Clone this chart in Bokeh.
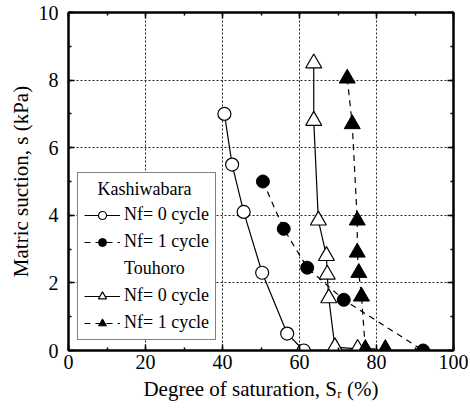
from bokeh.plotting import figure
from bokeh.models import (LinearAxis, SingleIntervalTicker, Range1d, Legend, LegendItem)
from bokeh.embed import file_html
from bokeh.resources import INLINE

# Data
kashi0_sr = [40.5, 42.5, 45.5, 50.3, 56.8, 61.1]
kashi0_s = [7.0, 5.5, 4.1, 2.3, 0.5, 0.0]
kashi1_sr = [50.5, 55.9, 62.0, 71.5, 92.1]
kashi1_s = [5.0, 3.6, 2.45, 1.5, 0.0]
tou0_sr = [63.7, 63.7, 64.9, 67.0, 67.2, 67.6, 69.2, 75.1]
tou0_s = [8.5, 6.8, 3.85, 2.8, 2.25, 1.55, 0.1, 0.05]
tou1_sr = [72.4, 73.7, 75.0, 75.0, 75.4, 76.1, 77.1, 82.3]
tou1_s = [8.05, 6.7, 3.85, 2.9, 2.3, 1.6, 0.05, 0.05]

FONT = "Liberation Serif"

p = figure(width=468, height=408, output_backend="svg", toolbar_location=None,
           x_range=Range1d(0, 100), y_range=Range1d(0, 10),
           min_border_left=68, min_border_right=15, min_border_top=12, min_border_bottom=58,
           x_axis_label="Degree of saturation, Sᵣ (%)",
           y_axis_label="Matric suction, s (kPa)")
p.outline_line_color = "black"
p.outline_line_width = 2
p.background_fill_color = "white"
p.border_fill_color = "white"

xt = SingleIntervalTicker(interval=20, num_minor_ticks=2)
yt = SingleIntervalTicker(interval=2, num_minor_ticks=2)
p.xaxis.ticker = xt
p.yaxis.ticker = yt
p.xgrid.ticker = xt
p.ygrid.ticker = yt
for g in (p.xgrid, p.ygrid):
    g.grid_line_color = "#222222"
    g.grid_line_dash = "2 2"
    g.grid_line_width = 1

def style_axis(ax, labels=True):
    ax.axis_line_width = 2
    ax.axis_line_color = "black"
    ax.major_tick_in = 6
    ax.major_tick_out = 0
    ax.minor_tick_in = 3
    ax.minor_tick_out = 0
    ax.major_tick_line_width = 1.5
    ax.minor_tick_line_width = 1.5
    ax.major_tick_line_color = "black"
    ax.minor_tick_line_color = "black"
    ax.major_label_text_font = FONT
    ax.major_label_text_font_size = "20px"
    ax.major_label_text_color = "black"
    ax.axis_label_text_font = FONT
    ax.axis_label_text_font_size = "21px"
    ax.axis_label_text_font_style = "normal"
    ax.axis_label_text_color = "black"
    if not labels:
        ax.major_label_text_color = None
        ax.major_label_text_font_size = "1px"
        ax.major_label_standoff = 0

style_axis(p.xaxis[0])
style_axis(p.yaxis[0])
p.xaxis[0].axis_label_standoff = 5
p.yaxis[0].axis_label_standoff = 3
p.xaxis[0].major_label_standoff = 4
p.yaxis[0].major_label_standoff = 10

top = LinearAxis(ticker=xt)
right = LinearAxis(ticker=yt)
style_axis(top, False)
style_axis(right, False)
p.add_layout(top, "above")
p.add_layout(right, "right")

LW = 1.2
DASH = "6 5"

l0 = p.line(kashi0_sr, kashi0_s, line_color="black", line_width=LW)
m0 = p.scatter(kashi0_sr, kashi0_s, marker="circle", size=13, fill_color="white",
               line_color="black", line_width=1.2)
l1 = p.line(kashi1_sr, kashi1_s, line_color="black", line_width=LW, line_dash=DASH)
m1 = p.scatter(kashi1_sr, kashi1_s, marker="circle", size=13, fill_color="black",
               line_color="black")
l2 = p.line(tou0_sr, tou0_s, line_color="black", line_width=LW)
m2 = p.scatter(tou0_sr, tou0_s, marker="triangle", size=16, fill_color="white",
               line_color="black", line_width=1.2)
l3 = p.line(tou1_sr, tou1_s, line_color="black", line_width=LW, line_dash=DASH)
m3 = p.scatter(tou1_sr, tou1_s, marker="triangle", size=16, fill_color="black",
               line_color="black")

h2 = p.scatter([], [], marker="circle", alpha=0)

items = [
    LegendItem(label="Nf= 0 cycle", renderers=[l0, m0]),
    LegendItem(label="Nf= 1 cycle", renderers=[l1, m1]),
    LegendItem(label="Touhoro", renderers=[h2]),
    LegendItem(label="Nf= 0 cycle", renderers=[l2, m2]),
    LegendItem(label="Nf= 1 cycle", renderers=[l3, m3]),
]
legend = Legend(items=items, location=(9, 10),
                title="\u00a0\u00a0\u00a0Kashiwabara")
legend.title_text_font = FONT
legend.title_text_font_size = "18px"
legend.title_text_font_style = "normal"
legend.title_text_color = "black"
legend.title_standoff = 4
legend.label_text_font = FONT
legend.label_text_font_size = "18px"
legend.label_text_color = "black"
legend.glyph_width = 36
legend.glyph_height = 20
legend.label_height = 20
legend.spacing = 6
legend.padding = 6
legend.margin = 0
legend.label_standoff = 4
legend.border_line_color = "black"
legend.border_line_width = 1
legend.background_fill_alpha = 1
p.add_layout(legend, "center")

open("out.html", "w").write(file_html(p, INLINE))
